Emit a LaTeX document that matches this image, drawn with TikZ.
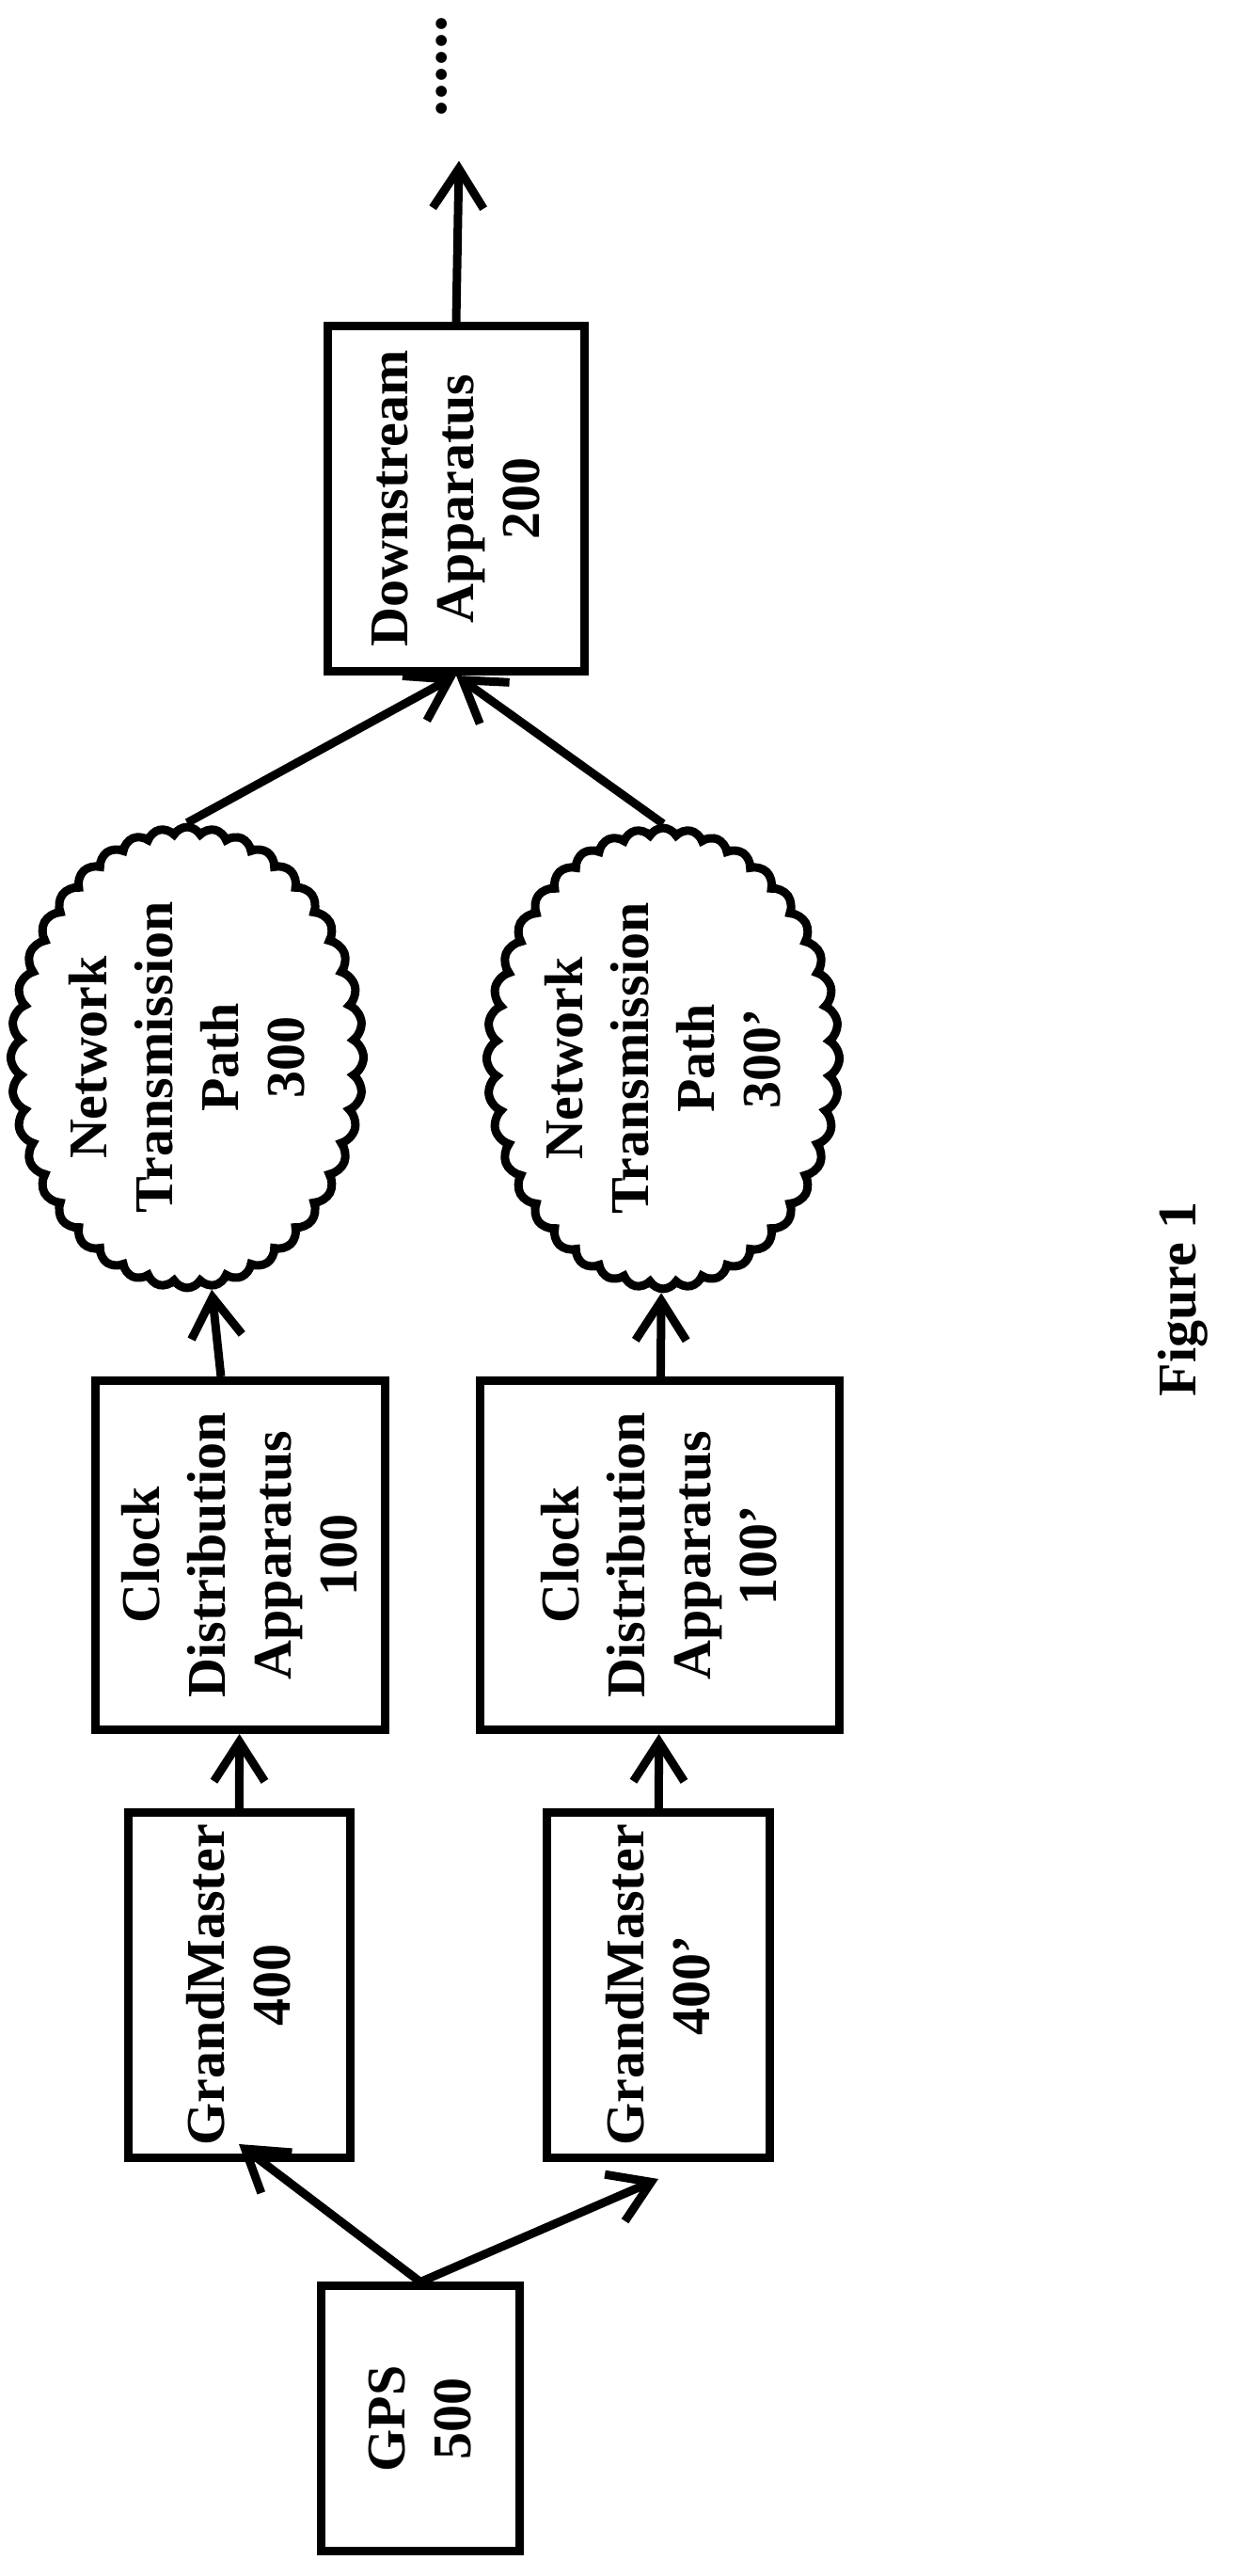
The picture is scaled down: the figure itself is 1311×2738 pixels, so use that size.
\documentclass[tikz,border=0pt]{standalone}
\usepackage{fontspec}
\setmainfont{Liberation Serif}
\usetikzlibrary{positioning,calc,arrows.meta,shapes.symbols}
\tikzset{%
  arrow/.style = {
    -{Straight Barb[length=42pt,width=54pt,line width=9pt]},
    line width = 9pt,
  },
  tbox/.style = {
    draw,
    line width = 9pt,
    rotate = 90,
    align = center,
    inner sep = 0pt,
    font = \fontsize{58}{70}\selectfont\bfseries,
  },
  net/.style = {
    tbox,
    cloud,
    cloud puffs = 40,
    cloud puff arc = 120,
    aspect = 1.34,
  },
}

\begin{document}
\begin{tikzpicture}[x=1pt,y=1pt]
\useasboundingbox (0,0) rectangle (1311,2738);
\node(ds)   [tbox, minimum width=367, minimum height=273] at (485,2208) {Downstream\\Apparatus\\200};
\node(net1) [net, minimum width=480, minimum height=358] at (199,1614) {Network\\Transmission\\Path\\300};
\node(net2) [net, minimum width=480, minimum height=352] at (705,1613) {Network\\Transmission\\Path\\300'};
\node(clk1) [tbox, minimum width=371, minimum height=308] at (255,1085) {Clock\\Distribution\\Apparatus\\100};
\node(clk2) [tbox, minimum width=371, minimum height=382] at (701,1085) {Clock\\Distribution\\Apparatus\\100'};
\node(gm1)  [tbox, minimum width=367, minimum height=236] at (254,628) {GrandMaster\\400};
\node(gm2)  [tbox, minimum width=367, minimum height=237] at (700,628) {GrandMaster\\400'};
\node(gps)  [tbox, minimum width=282, minimum height=211] at (447,167) {GPS\\500};
\node(more) [rotate=90, font=\fontsize{72}{80}\selectfont\bfseries] at (470,2667) {......};
\node(fig)  [rotate=90, font=\fontsize{58}{70}\selectfont\bfseries] at (1258,1357) {Figure 1};
\coordinate (out) at (488,2567);

\draw[arrow] (gps.east) -- ([yshift=19pt]gm1.west);
\draw[arrow] (gps.east) -- ([yshift=-18pt]gm2.west);
\draw[arrow] (gm1) -- (clk1);
\draw[arrow] (gm2) -- (clk2);
\draw[arrow] (clk1) -- (net1);
\draw[arrow] (clk2) -- (net2);
\draw[arrow] (net1.east) -- (ds.west);
\draw[arrow] (net2.east) -- (ds.west);
\draw[arrow] (ds.east) -- (out);
\end{tikzpicture}
\end{document}
